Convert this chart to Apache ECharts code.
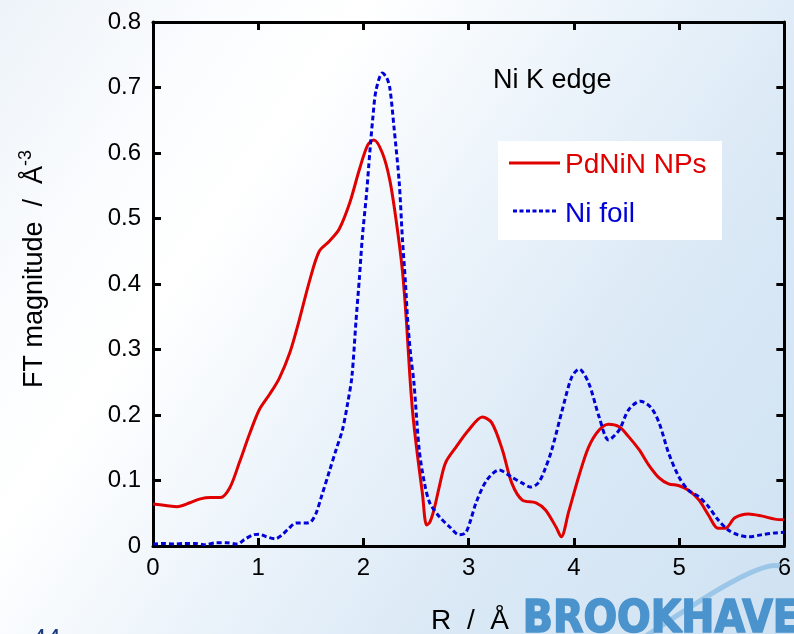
<!DOCTYPE html>
<html>
<head>
<meta charset="utf-8">
<script src="https://cdn.jsdelivr.net/npm/echarts@6/dist/echarts.min.js"></script>
<style>
  html, body { margin: 0; padding: 0; }
  #chart {
    width: 794px; height: 634px;
    background: linear-gradient(125deg, #edf3f9 0%, #fafcfe 18%, #ffffff 30%, #eef5fb 48%, #dbe9f6 70%, #cfe2f2 100%);
  }
</style>
</head>
<body>
<div id="chart"></div>
<script>
// Ni K-edge EXAFS Fourier transform magnitudes, R in Å
const seriesNames = ['PdNiN NPs', 'Ni foil'];

const pdninR = [0.00, 0.12, 0.23, 0.35, 0.45, 0.55, 0.64, 0.73, 0.82, 0.92, 1.01, 1.11, 1.20, 1.30, 1.39, 1.49, 1.58, 1.68, 1.77, 1.87, 1.96, 2.04, 2.10, 2.18, 2.25, 2.31, 2.37, 2.41, 2.44, 2.47, 2.52, 2.56, 2.60, 2.63, 2.67, 2.72, 2.78, 2.88, 3.00, 3.13, 3.22, 3.32, 3.41, 3.51, 3.64, 3.73, 3.83, 3.88, 3.95, 4.05, 4.14, 4.24, 4.33, 4.43, 4.52, 4.62, 4.71, 4.81, 4.90, 5.00, 5.09, 5.19, 5.28, 5.37, 5.44, 5.53, 5.66, 5.78, 5.91, 6.00];
const pdninFT = [0.064, 0.062, 0.060, 0.066, 0.072, 0.074, 0.074, 0.089, 0.127, 0.172, 0.208, 0.232, 0.256, 0.295, 0.345, 0.406, 0.450, 0.466, 0.484, 0.524, 0.574, 0.612, 0.620, 0.600, 0.559, 0.498, 0.421, 0.340, 0.262, 0.200, 0.130, 0.081, 0.032, 0.036, 0.055, 0.090, 0.127, 0.151, 0.177, 0.197, 0.188, 0.147, 0.096, 0.070, 0.066, 0.055, 0.029, 0.014, 0.052, 0.108, 0.151, 0.177, 0.186, 0.182, 0.167, 0.147, 0.124, 0.104, 0.095, 0.092, 0.085, 0.070, 0.047, 0.027, 0.027, 0.043, 0.049, 0.046, 0.041, 0.040];

const foilR = [0.00, 0.10, 0.20, 0.30, 0.40, 0.50, 0.60, 0.70, 0.80, 0.87, 0.95, 1.01, 1.08, 1.16, 1.22, 1.28, 1.36, 1.44, 1.50, 1.55, 1.60, 1.68, 1.74, 1.80, 1.85, 1.89, 1.93, 1.96, 1.99, 2.03, 2.06, 2.09, 2.12, 2.18, 2.22, 2.25, 2.29, 2.34, 2.37, 2.40, 2.42, 2.45, 2.48, 2.53, 2.58, 2.63, 2.72, 2.82, 2.91, 2.97, 3.02, 3.07, 3.17, 3.29, 3.41, 3.51, 3.59, 3.66, 3.72, 3.79, 3.89, 3.98, 4.05, 4.14, 4.24, 4.33, 4.43, 4.52, 4.63, 4.73, 4.81, 4.90, 5.00, 5.09, 5.19, 5.28, 5.37, 5.47, 5.56, 5.66, 5.78, 5.91, 6.00];
const foilFT = [0.003, 0.004, 0.003, 0.004, 0.004, 0.002, 0.005, 0.005, 0.003, 0.010, 0.017, 0.018, 0.014, 0.011, 0.016, 0.025, 0.035, 0.035, 0.037, 0.050, 0.075, 0.116, 0.147, 0.177, 0.218, 0.258, 0.345, 0.406, 0.472, 0.539, 0.600, 0.655, 0.696, 0.722, 0.715, 0.700, 0.640, 0.555, 0.470, 0.400, 0.345, 0.290, 0.249, 0.147, 0.096, 0.066, 0.045, 0.029, 0.017, 0.020, 0.040, 0.066, 0.100, 0.116, 0.105, 0.096, 0.090, 0.096, 0.115, 0.147, 0.208, 0.258, 0.270, 0.249, 0.197, 0.162, 0.177, 0.208, 0.221, 0.212, 0.188, 0.142, 0.105, 0.085, 0.075, 0.060, 0.040, 0.024, 0.017, 0.014, 0.017, 0.020, 0.021];

const pair = (xs, ys) => xs.map((x, i) => [x, ys[i]]);

const RED = '#e00000';
const BLUE = '#0000d8';
const FONT = '"Liberation Sans", Arial, sans-serif';

const axisLine = { show: true, onZero: false, lineStyle: { color: '#000', width: 3 } };
const axisTick = { show: true, inside: true, length: 8, lineStyle: { color: '#000', width: 3 } };

const chart = echarts.init(document.getElementById('chart'), null, { renderer: 'canvas' });

chart.setOption({
  backgroundColor: 'transparent',
  animation: false,
  grid: { left: 153, top: 22, right: 8, bottom: 88 },
  xAxis: [
    {
      type: 'value', min: 0, max: 6, interval: 1, position: 'bottom',
      axisLine, axisTick, splitLine: { show: false },
      axisLabel: { color: '#000', fontSize: 24, fontFamily: FONT, margin: 10 }
    },
    {
      type: 'value', min: 0, max: 6, interval: 1, position: 'top',
      axisLine, axisTick, splitLine: { show: false },
      axisLabel: { show: false }
    }
  ],
  yAxis: [
    {
      type: 'value', min: 0, max: 0.8, interval: 0.1, position: 'left',
      axisLine, axisTick, splitLine: { show: false },
      axisLabel: {
        color: '#000', fontSize: 24, fontFamily: FONT, margin: 12,
        formatter: v => (v === 0 ? '0' : v.toFixed(1))
      }
    },
    {
      type: 'value', min: 0, max: 0.8, interval: 0.1, position: 'right',
      axisLine, axisTick, splitLine: { show: false },
      axisLabel: { show: false }
    }
  ],
  series: [
    {
      name: seriesNames[0], type: 'line', symbol: 'none', smooth: 0.3,
      data: pair(pdninR, pdninFT),
      lineStyle: { color: RED, width: 3 }, z: 2
    },
    {
      name: seriesNames[1], type: 'line', symbol: 'none', smooth: 0.3,
      data: pair(foilR, foilFT),
      lineStyle: { color: BLUE, width: 3, type: [5, 3] }, z: 3
    }
  ],
  graphic: [
    {
      type: 'text', left: 493, top: 67, z: 10,
      style: { text: 'Ni K edge', fontSize: 27, fontFamily: FONT, fill: '#000' }
    },
    // key box
    {
      type: 'rect', z: 10,
      shape: { x: 498, y: 141, width: 224, height: 99 },
      style: { fill: '#ffffff' }
    },
    {
      type: 'line', z: 11,
      shape: { x1: 509, y1: 163, x2: 560, y2: 163 },
      style: { stroke: RED, lineWidth: 3 }
    },
    {
      type: 'text', x: 565, y: 165, z: 11,
      style: { text: seriesNames[0], fontSize: 28, fontFamily: FONT, fill: RED, verticalAlign: 'middle' }
    },
    {
      type: 'line', z: 11,
      shape: { x1: 513, y1: 211, x2: 556, y2: 211 },
      style: { stroke: BLUE, lineWidth: 3, lineDash: [4, 2.5] }
    },
    {
      type: 'text', x: 565, y: 214, z: 11,
      style: { text: seriesNames[1], fontSize: 28, fontFamily: FONT, fill: BLUE, verticalAlign: 'middle' }
    },
    // axis titles
    {
      type: 'text', x: 35, y: 269, rotation: Math.PI / 2, z: 10,
      style: {
        text: '{a|FT magnitude  /  Å}{s|-3}',
        align: 'center', verticalAlign: 'middle',
        rich: {
          a: { fontSize: 27, fontFamily: FONT, fill: '#000', lineHeight: 36 },
          s: { fontSize: 18, fontFamily: FONT, fill: '#000', verticalAlign: 'top', lineHeight: 18 }
        }
      }
    },
    {
      type: 'text', x: 470, y: 621, z: 10,
      style: { text: 'R  /  Å', fontSize: 28, fontFamily: FONT, fill: '#000', align: 'center', verticalAlign: 'middle' }
    },
    // laboratory logo orbit and wordmark along the lower edge
    {
      type: 'bezierCurve', z: 1,
      shape: { x1: 640, y1: 640, cpx1: 700, cpy1: 600, cpx2: 760, cpy2: 560, x2: 780, y2: 566 },
      style: { stroke: '#9cc6e8', lineWidth: 5, fill: null }
    },
    {
      type: 'text', left: 522, top: 598, z: 2,
      style: {
        text: 'BROOKHAVEN', fontSize: 44, fontWeight: 'bold',
        fontFamily: '"DejaVu Sans Condensed", "DejaVu Sans", sans-serif',
        fill: '#4b93cc', stroke: '#4b93cc', lineWidth: 1.5
      }
    },
    {
      type: 'text', left: 32, top: 627, z: 2,
      style: { text: '44', fontSize: 26, fontFamily: FONT, fill: '#1c3b7c' }
    }
  ]
});
</script>
</body>
</html>
